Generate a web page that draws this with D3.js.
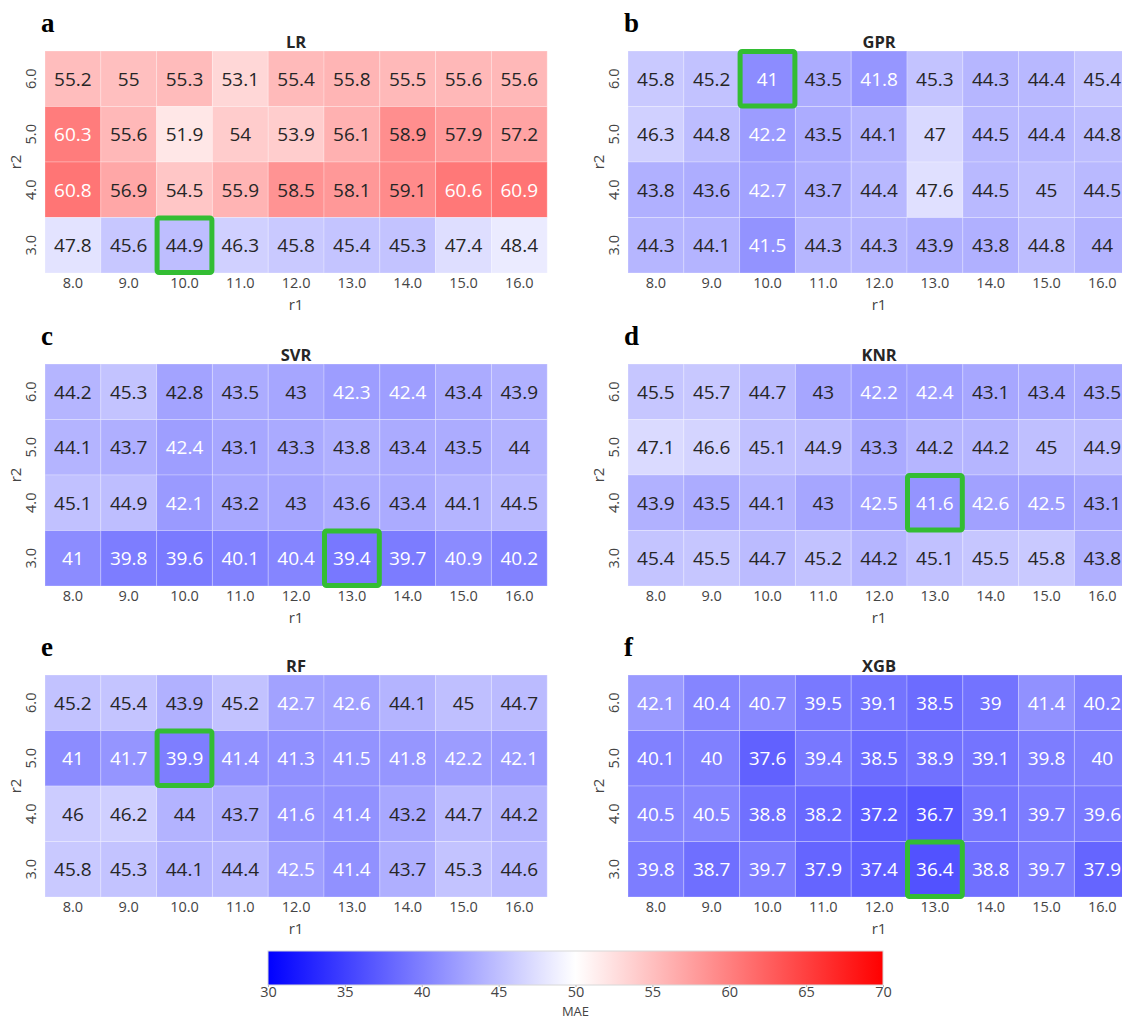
<!DOCTYPE html>
<html>
<head>
<meta charset="utf-8">
<script src="https://cdn.jsdelivr.net/npm/d3@7"></script>
<style>
  body { margin: 0; background: white; }
  svg { display: block; font-family: "Open Sans", sans-serif; }
</style>
</head>
<body>
<svg id="fig" width="1122" height="1020"></svg>
<script>
// axis categories (rows are listed top to bottom)
var r1_labels = ['8.0', '9.0', '10.0', '11.0', '12.0', '13.0', '14.0', '15.0', '16.0'];
var r2_labels = ['6.0', '5.0', '4.0', '3.0'];
var cbar_ticks = [30, 35, 40, 45, 50, 55, 60, 65, 70];

// MAE per model, one row per r2 value
var mae_lr = [
	[55.2, 55, 55.3, 53.1, 55.4, 55.8, 55.5, 55.6, 55.6],
	[60.3, 55.6, 51.9, 54, 53.9, 56.1, 58.9, 57.9, 57.2],
	[60.8, 56.9, 54.5, 55.9, 58.5, 58.1, 59.1, 60.6, 60.9],
	[47.8, 45.6, 44.9, 46.3, 45.8, 45.4, 45.3, 47.4, 48.4]
];
var mae_gpr = [
	[45.8, 45.2, 41, 43.5, 41.8, 45.3, 44.3, 44.4, 45.4],
	[46.3, 44.8, 42.2, 43.5, 44.1, 47, 44.5, 44.4, 44.8],
	[43.8, 43.6, 42.7, 43.7, 44.4, 47.6, 44.5, 45, 44.5],
	[44.3, 44.1, 41.5, 44.3, 44.3, 43.9, 43.8, 44.8, 44]
];
var mae_svr = [
	[44.2, 45.3, 42.8, 43.5, 43, 42.3, 42.4, 43.4, 43.9],
	[44.1, 43.7, 42.4, 43.1, 43.3, 43.8, 43.4, 43.5, 44],
	[45.1, 44.9, 42.1, 43.2, 43, 43.6, 43.4, 44.1, 44.5],
	[41, 39.8, 39.6, 40.1, 40.4, 39.4, 39.7, 40.9, 40.2]
];
var mae_knr = [
	[45.5, 45.7, 44.7, 43, 42.2, 42.4, 43.1, 43.4, 43.5],
	[47.1, 46.6, 45.1, 44.9, 43.3, 44.2, 44.2, 45, 44.9],
	[43.9, 43.5, 44.1, 43, 42.5, 41.6, 42.6, 42.5, 43.1],
	[45.4, 45.5, 44.7, 45.2, 44.2, 45.1, 45.5, 45.8, 43.8]
];
var mae_rf = [
	[45.2, 45.4, 43.9, 45.2, 42.7, 42.6, 44.1, 45, 44.7],
	[41, 41.7, 39.9, 41.4, 41.3, 41.5, 41.8, 42.2, 42.1],
	[46, 46.2, 44, 43.7, 41.6, 41.4, 43.2, 44.7, 44.2],
	[45.8, 45.3, 44.1, 44.4, 42.5, 41.4, 43.7, 45.3, 44.6]
];
var mae_xgb = [
	[42.1, 40.4, 40.7, 39.5, 39.1, 38.5, 39, 41.4, 40.2],
	[40.1, 40, 37.6, 39.4, 38.5, 38.9, 39.1, 39.8, 40],
	[40.5, 40.5, 38.8, 38.2, 37.2, 36.7, 39.1, 39.7, 39.6],
	[39.8, 38.7, 39.7, 37.9, 37.4, 36.4, 38.8, 39.7, 37.9]
];

var panels = [
	{letter: 'a', title: 'LR',  data: mae_lr,  x: 45,  y: 51},
	{letter: 'b', title: 'GPR', data: mae_gpr, x: 628, y: 51},
	{letter: 'c', title: 'SVR', data: mae_svr, x: 45,  y: 364},
	{letter: 'd', title: 'KNR', data: mae_knr, x: 628, y: 364},
	{letter: 'e', title: 'RF',  data: mae_rf,  x: 45,  y: 675},
	{letter: 'f', title: 'XGB', data: mae_xgb, x: 628, y: 675}
];

var cellW = 55.8, cellH = 55.5;
var W = cellW * r1_labels.length, H = cellH * r2_labels.length;
var darkText = '#262626', tickText = '#444';

// matplotlib "bwr", vmin 30 / vmax 70
var color = d3.scaleLinear()
	.domain([30, 50, 70])
	.range(['#0000ff', '#ffffff', '#ff0000'])
	.clamp(true);

// same rule seaborn uses to pick the annotation colour
function text_color(v) {
	var c = d3.rgb(color(v));
	function lin(u) { u = u / 255; return u <= 0.03928 ? u / 12.92 : Math.pow((u + 0.055) / 1.055, 2.4); }
	var lum = 0.2126 * lin(c.r) + 0.7152 * lin(c.g) + 0.0722 * lin(c.b);
	return lum < 0.408 ? 'white' : darkText;
}

var svg = d3.select('#fig');

function draw_panel(p) {
	var x = d3.scaleBand().domain(r1_labels).range([0, W]);
	var y = d3.scaleBand().domain(r2_labels).range([0, H]);
	var g = svg.append('g').attr('transform', 'translate(' + p.x + ',' + p.y + ')');

	var cells = [];
	var best = null;
	p.data.forEach(function(row, i) {
		row.forEach(function(v, j) {
			var c = {r1: r1_labels[j], r2: r2_labels[i], v: v};
			cells.push(c);
			if (best === null || v < best.v) best = c;
		});
	});

	g.selectAll('rect.cell').data(cells).enter().append('rect')
		.attr('class', 'cell')
		.attr('x', function(d) { return x(d.r1); })
		.attr('y', function(d) { return y(d.r2); })
		.attr('width', x.bandwidth())
		.attr('height', y.bandwidth())
		.attr('fill', function(d) { return color(d.v); })
		.attr('stroke', 'white')
		.attr('stroke-opacity', 0.25)
		.attr('stroke-width', 1);

	g.selectAll('text.annot').data(cells).enter().append('text')
		.attr('class', 'annot')
		.attr('x', function(d) { return x(d.r1) + x.bandwidth() / 2; })
		.attr('y', function(d) { return y(d.r2) + y.bandwidth() / 2; })
		.attr('dy', '0.36em')
		.attr('text-anchor', 'middle')
		.attr('font-size', 19)
		.attr('fill', function(d) { return text_color(d.v); })
		.text(function(d) { return d.v; });

	// lowest MAE of the grid
	g.append('rect')
		.attr('x', x(best.r1) + 0.5)
		.attr('y', y(best.r2) + 0.5)
		.attr('width', x.bandwidth() - 1)
		.attr('height', y.bandwidth() - 1)
		.attr('rx', 2)
		.attr('fill', 'none')
		.attr('stroke', '#33bd33')
		.attr('stroke-width', 5);

	// axes, without domain line or tick marks like seaborn's heatmap
	var xAxis = g.append('g')
		.attr('transform', 'translate(0,' + H + ')')
		.call(d3.axisBottom(x).tickSize(0).tickPadding(5));
	var yAxis = g.append('g')
		.call(d3.axisLeft(y).tickSize(0).tickPadding(0));
	[xAxis, yAxis].forEach(function(a) {
		a.select('.domain').remove();
		a.selectAll('text')
			.attr('font-family', '"Open Sans", sans-serif')
			.attr('font-size', 14.5)
			.attr('fill', tickText);
	});
	yAxis.selectAll('text')
		.attr('x', null).attr('dy', null)
		.attr('text-anchor', 'middle')
		.attr('transform', 'translate(-9,0) rotate(-90)');

	g.append('text')
		.attr('x', W / 2).attr('y', H + 37)
		.attr('text-anchor', 'middle')
		.attr('font-size', 15)
		.attr('fill', tickText)
		.text('r1');
	g.append('text')
		.attr('transform', 'translate(-24,' + (H / 2) + ') rotate(-90)')
		.attr('text-anchor', 'middle')
		.attr('font-size', 15)
		.attr('fill', tickText)
		.text('r2');

	g.append('text')
		.attr('x', W / 2).attr('y', -3)
		.attr('text-anchor', 'middle')
		.attr('font-size', 16.5)
		.attr('font-weight', 'bold')
		.attr('fill', darkText)
		.text(p.title);
	g.append('text')
		.attr('x', -4).attr('y', -19)
		.attr('font-family', '"Liberation Serif", serif')
		.attr('font-size', 27)
		.attr('font-weight', 'bold')
		.attr('fill', 'black')
		.text(p.letter);
}

panels.forEach(draw_panel);

// colour bar
var cb = {x: 268, y: 951, w: 615, h: 34};
var cbScale = d3.scaleLinear().domain([30, 70]).range([0, cb.w]);
var grad = svg.append('defs').append('linearGradient')
	.attr('id', 'bwr').attr('x1', '0%').attr('x2', '100%');
grad.selectAll('stop').data(color.domain()).enter().append('stop')
	.attr('offset', function(d) { return (cbScale(d) / cb.w * 100) + '%'; })
	.attr('stop-color', function(d) { return color(d); });

var cbg = svg.append('g').attr('transform', 'translate(' + cb.x + ',' + cb.y + ')');
cbg.append('rect')
	.attr('width', cb.w).attr('height', cb.h)
	.attr('fill', 'url(#bwr)')
	.attr('stroke', '#d8d8d8')
	.attr('stroke-width', 1);
var cbAxis = cbg.append('g')
	.attr('transform', 'translate(0,' + cb.h + ')')
	.call(d3.axisBottom(cbScale).tickValues(cbar_ticks).tickSize(2).tickPadding(0));
cbAxis.select('.domain').remove();
cbAxis.selectAll('line').attr('stroke', '#bbb');
cbAxis.selectAll('text')
	.attr('font-family', '"Open Sans", sans-serif')
	.attr('font-size', 14.5)
	.attr('fill', tickText);
cbg.append('text')
	.attr('x', cb.w / 2).attr('y', cb.h + 30.5)
	.attr('text-anchor', 'middle')
	.attr('font-size', 13)
	.attr('fill', tickText)
	.text('MAE');
</script>
</body>
</html>
